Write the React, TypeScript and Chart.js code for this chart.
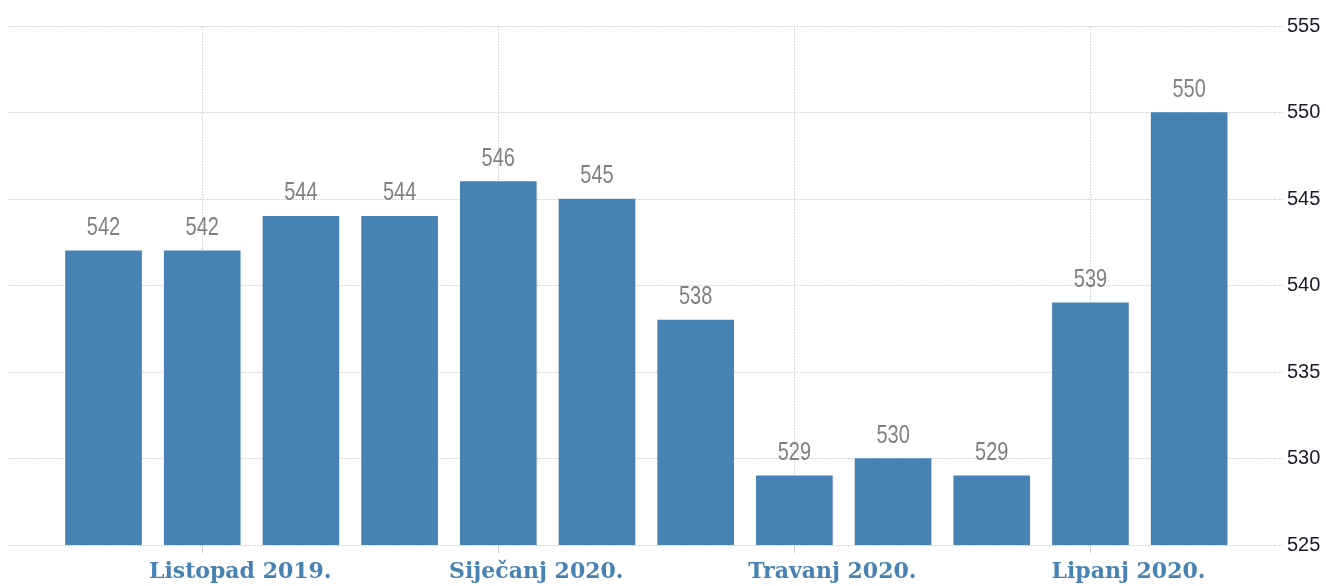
import React, { useEffect, useRef } from "react";
import { Chart, registerables } from "chart.js";

Chart.register(...registerables);

const values: number[] = [542, 542, 544, 544, 546, 545, 538, 529, 530, 529, 539, 550];
const tickPositions: number[] = [1, 4, 7, 10];
const tickLabels: string[] = ["Listopad 2019.", "Siječanj 2020.", "Travanj 2020.", "Lipanj 2020."];
const yTicks: number[] = [525, 530, 535, 540, 545, 550, 555];

const BAR_COLOR = "#4682B4";
const GRID_COLOR = "#c8c8c8";

const valueLabelPlugin = {
  id: "valueLabels",
  afterDatasetsDraw(chart: any) {
    const ctx = chart.ctx;
    const meta = chart.getDatasetMeta(0);
    const squeeze = 0.8;
    ctx.save();
    ctx.font = '25px "Liberation Sans", Arial, sans-serif';
    ctx.fillStyle = "#808080";
    ctx.textAlign = "center";
    ctx.textBaseline = "alphabetic";
    meta.data.forEach((bar: any, i: number) => {
      ctx.save();
      ctx.translate(bar.x, bar.y - 16);
      ctx.scale(squeeze, 1);
      ctx.fillText(String(values[i]), 0, 0);
      ctx.restore();
    });
    ctx.restore();
  },
};

export default function App() {
  const canvasRef = useRef<HTMLCanvasElement | null>(null);

  useEffect(() => {
    if (!canvasRef.current) return;
    const chart = new Chart(canvasRef.current, {
      type: "bar",
      data: {
        datasets: [
          {
            data: values.map((v, i) => ({ x: i, y: v })),
            backgroundColor: BAR_COLOR,
            borderWidth: 0,
            barThickness: 76,
          },
        ],
      },
      options: {
        animation: false,
        responsive: true,
        maintainAspectRatio: false,
        layout: { padding: { left: 8, top: 26, right: 0, bottom: 0 } },
        plugins: {
          legend: { display: false },
          tooltip: { enabled: false },
        },
        scales: {
          x: {
            type: "linear",
            offset: false,
            min: -0.968,
            max: 11.87,
            afterBuildTicks: (scale: any) => {
              scale.ticks = tickPositions.map((v) => ({ value: v }));
            },
            afterFit: (scale: any) => {
              scale.height = 41;
            },
            border: { display: false, dash: [1.5, 1.5] },
            grid: {
              offset: false,
              color: GRID_COLOR,
              tickLength: 8,
              tickColor: "#d0d0d0",
              drawTicks: true,
            },
            ticks: {
              autoSkip: false,
              maxRotation: 0,
              padding: 6,
              labelOffset: 38,
              color: BAR_COLOR,
              font: { family: '"DejaVu Serif", serif', size: 22, weight: "bold" },
              callback: (v: any) => {
                const idx = tickPositions.indexOf(Number(v));
                return idx >= 0 ? tickLabels[idx] : "";
              },
            },
          },
          y: {
            position: "right",
            min: 525,
            max: 555,
            afterBuildTicks: (scale: any) => {
              scale.ticks = yTicks.map((v) => ({ value: v }));
            },
            afterFit: (scale: any) => {
              scale.width = 51;
            },
            border: { display: false, dash: [1.5, 1.5] },
            grid: {
              color: GRID_COLOR,
              tickBorderDash: [1.5, 1.5],
              tickLength: 8,
              tickColor: GRID_COLOR,
              drawTicks: true,
            },
            ticks: {
              padding: 4,
              color: "#1a1a2a",
              font: { family: '"Liberation Sans", Arial, sans-serif', size: 20 },
            },
          },
        },
      },
      plugins: [valueLabelPlugin],
    });
    return () => chart.destroy();
  }, []);

  return (
    <div style={{ position: "absolute", left: 0, top: 0, width: 1326, height: 586 }}>
      <canvas ref={canvasRef} />
    </div>
  );
}
